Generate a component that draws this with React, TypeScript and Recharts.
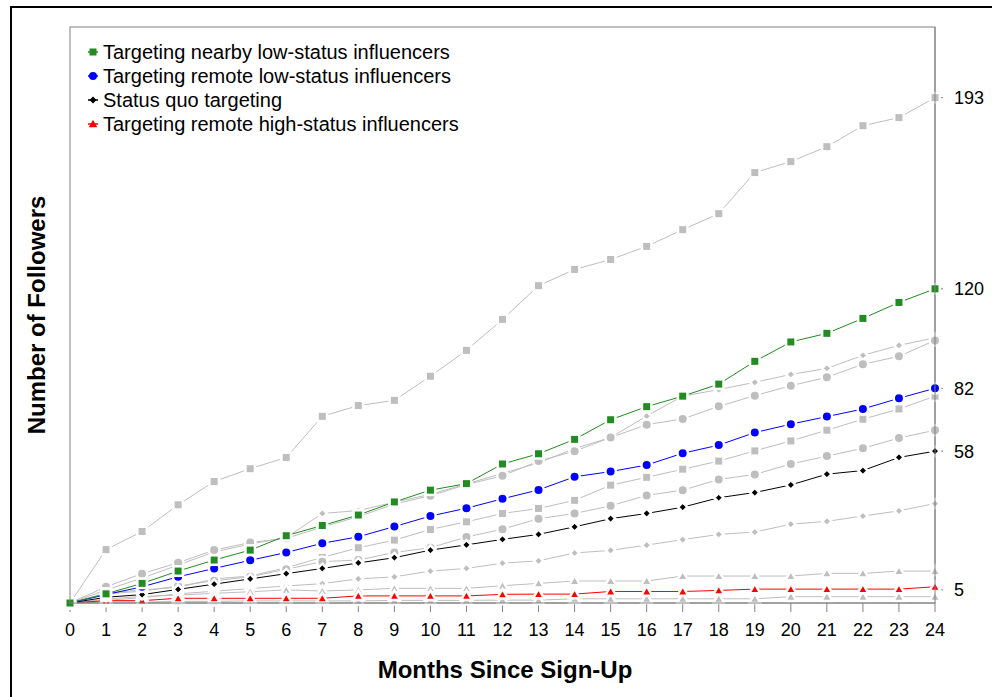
import { LineChart, Line, XAxis, YAxis } from "recharts"

const months = [0, 1, 2, 3, 4, 5, 6, 7, 8, 9, 10, 11, 12, 13, 14, 15, 16, 17, 18, 19, 20, 21, 22, 23, 24]
const yTicks = [5, 58, 82, 120, 193]

// highlighted conditions
const nearbyLow = [0, 3.5, 7.5, 12.2, 16.4, 20.2, 25.7, 29.6, 33.6, 38.6, 43.1, 45.6, 53.1, 57, 62.5, 70, 75, 79, 83.6, 92.3, 99.7, 103, 108.7, 114.8, 120]
const remoteLow = [0, 3.2, 6.2, 10, 13.2, 16.3, 19.3, 22.8, 25.3, 29.2, 33.2, 36.2, 39.8, 43.2, 48.2, 50.2, 52.7, 57.2, 60.3, 65.1, 68.3, 71.2, 74.1, 78.2, 82]
const statusQuo = [0, 2.2, 3.2, 5.2, 7.2, 9.2, 11.2, 13.2, 15.3, 17.3, 20.2, 22.2, 24.3, 26.2, 29.1, 32.2, 34.2, 36.6, 40.2, 42.2, 45.1, 49.2, 50.6, 55.6, 58]
const remoteHigh = [0, 0.9, 0.9, 1.8, 1.8, 1.8, 1.8, 1.8, 2.7, 2.7, 2.7, 2.7, 3.3, 3.4, 3.4, 4.4, 4.4, 4.4, 4.8, 5.3, 5.3, 5.3, 5.3, 5.3, 6.2]

// other conditions (grey)
const greyTop = [0, 20.4, 27.3, 37.5, 46.4, 51.3, 55.6, 71.3, 75.4, 77.4, 86.6, 96.5, 108.3, 121.2, 127.4, 131.2, 136.2, 142.6, 148.7, 164.4, 168.6, 174.3, 182.3, 185.4, 193]
const greyDiamondHi = [0, 5, 9.5, 14.5, 19.5, 22.5, 25, 34.2, 35.3, 38.5, 41.5, 45.5, 49.5, 53.5, 59, 63.2, 71.4, 79, 81.5, 84.3, 87.3, 89.6, 94.6, 98.4, 101.3]
const greyCircleHi = [0, 6.2, 11.2, 15.4, 20.2, 23.1, 24.7, 29, 33, 37.8, 41, 45.2, 48.6, 54.2, 58, 63.2, 68.1, 70.3, 75.1, 79.2, 83, 86.2, 91.2, 94.2, 100.3]
const greySquareMid = [0, 3.8, 5, 6, 9.2, 10.3, 13.5, 17.4, 21.1, 24, 28.1, 31, 34.2, 36.1, 39.2, 45, 48, 51.1, 54.2, 58.1, 61.9, 66, 70.2, 74.1, 79]
const greyCircleMid = [0, 3.5, 4.5, 6.5, 8.5, 10, 12.9, 15.8, 16.4, 19.3, 21.1, 25.2, 28.2, 32.2, 34.2, 37.1, 41.1, 43.1, 47.2, 49.1, 53.1, 56.1, 59.1, 63, 66]
const greyDiamondLo = [0, 1, 2, 3.5, 4.5, 5.5, 6.5, 7.4, 9.2, 10, 12.2, 13.2, 15.2, 16.1, 19.1, 20.1, 22.1, 24.2, 26.2, 27.1, 30.1, 31.2, 33.2, 35.2, 38]
const greyTriangleHi = [0, 1.5, 2.5, 3, 3.7, 4.3, 5, 4.6, 5, 5.6, 5.6, 5.6, 6.6, 7.5, 8.4, 8.4, 8.4, 10.3, 10.3, 10.3, 10.3, 11.3, 11.3, 12.2, 12.2]
const greyTriangleLo = [0, 0.4, 0.4, 0.6, 0.6, 0.8, 0.8, 0.8, 0.8, 1, 1, 1, 1.1, 1.1, 1.6, 1.6, 1.6, 1.6, 1.6, 1.6, 2.4, 2.4, 2.4, 2.4, 2.4]

const data = months.map((m, i) => ({
  month: m,
  nearbyLow: nearbyLow[i],
  remoteLow: remoteLow[i],
  statusQuo: statusQuo[i],
  remoteHigh: remoteHigh[i],
  greyTop: greyTop[i],
  greyDiamondHi: greyDiamondHi[i],
  greyCircleHi: greyCircleHi[i],
  greySquareMid: greySquareMid[i],
  greyCircleMid: greyCircleMid[i],
  greyDiamondLo: greyDiamondLo[i],
  greyTriangleHi: greyTriangleHi[i],
  greyTriangleLo: greyTriangleLo[i],
}))

type Shape = "square" | "circle" | "diamond" | "triangle"

const GREY = "#BEBEBE"
const GREEN = "#228B22"
const BLUE = "#0000FF"
const BLACK = "#000000"
const RED = "#FF0000"
const FRAME = "#808080"

const sizes: Record<Shape, number> = { square: 7, circle: 8, diamond: 7, triangle: 8.5 }

// pad > 0 draws a white ring so the line stops short of the point, like R's type="b"
function markerPath(shape: Shape, x: number, y: number, fill: string, key?: string | number, pad = 0) {
  const s = sizes[shape] + pad
  const ring = pad > 0 ? { stroke: "#fff", strokeWidth: pad } : {}
  if (shape === "square") return <rect key={key} x={x - s / 2} y={y - s / 2} width={s} height={s} fill={fill} {...ring} />
  if (shape === "circle") return <circle key={key} cx={x} cy={y} r={s / 2} fill={fill} {...ring} />
  if (shape === "diamond")
    return <polygon key={key} points={`${x},${y - s / 2} ${x + s / 2},${y} ${x},${y + s / 2} ${x - s / 2},${y}`} fill={fill} {...ring} />
  return <polygon key={key} points={`${x},${y - s * 0.5} ${x + s / 2},${y + s * 0.38} ${x - s / 2},${y + s * 0.38}`} fill={fill} {...ring} />
}

function makeDot(shape: Shape, fill: string) {
  return (props: any) => {
    const { cx, cy, index } = props
    if (cx == null || cy == null) return <g key={index} />
    return markerPath(shape, cx, cy, fill, index, 2.5)
  }
}

const greySeries: [string, Shape][] = [
  ["greyTop", "square"],
  ["greyDiamondHi", "diamond"],
  ["greyCircleHi", "circle"],
  ["greySquareMid", "square"],
  ["greyCircleMid", "circle"],
  ["greyDiamondLo", "diamond"],
  ["greyTriangleHi", "triangle"],
  ["greyTriangleLo", "triangle"],
]

const mainSeries: [string, Shape, string, string][] = [
  ["remoteHigh", "triangle", RED, "Targeting remote high-status influencers"],
  ["statusQuo", "diamond", BLACK, "Status quo targeting"],
  ["remoteLow", "circle", BLUE, "Targeting remote low-status influencers"],
  ["nearbyLow", "square", GREEN, "Targeting nearby low-status influencers"],
]

const legendOrder = [3, 2, 1, 0]

export default function App() {
  return (
    <div
      style={{
        position: "absolute",
        left: 0,
        top: 0,
        width: 992,
        height: 697,
        overflow: "hidden",
        background: "#fff",
        fontFamily: "'Liberation Sans', Arial, sans-serif",
      }}
    >
      <div
        style={{
          position: "absolute",
          left: 10,
          top: 6,
          width: 1200,
          height: 1200,
          border: "2px solid #000",
        }}
      />
      <div style={{ position: "absolute", left: 0, top: 0 }}>
        <LineChart width={992} height={697} data={data} margin={{ top: 27, right: 0, left: 70, bottom: 0 }}>
          <XAxis
            dataKey="month"
            type="number"
            domain={[0, 24]}
            ticks={months}
            interval={0}
            height={94}
            tickSize={9}
            tickMargin={11}
            stroke={FRAME}
            tick={{ fill: "#000", fontSize: 18 }}
          />
          <YAxis
            orientation="right"
            type="number"
            domain={[0, 220]}
            ticks={yTicks}
            interval={0}
            width={57}
            tickSize={8}
            tickMargin={11}
            stroke={FRAME}
            tick={{ fill: "#000", fontSize: 18, textAnchor: "start" }}
          />
          {greySeries.map(([key, shape]) => (
            <Line
              key={key}
              dataKey={key}
              type="linear"
              stroke={GREY}
              strokeWidth={1}
              dot={makeDot(shape, GREY)}
              activeDot={false}
              isAnimationActive={false}
            />
          ))}
          {mainSeries.map(([key, shape, color]) => (
            <Line
              key={key}
              dataKey={key}
              type="linear"
              stroke={color}
              strokeWidth={1}
              dot={makeDot(shape, color)}
              activeDot={false}
              isAnimationActive={false}
            />
          ))}
        </LineChart>
      </div>
      {/* plot box drawn over the series so the white rings don't break it */}
      <svg width={992} height={697} style={{ position: "absolute", left: 0, top: 0, pointerEvents: "none" }}>
        <rect x={70} y={27} width={865} height={576} fill="none" stroke={FRAME} strokeWidth={1} />
      </svg>
      <div style={{ position: "absolute", left: 84, top: 40 }}>
        {legendOrder.map((i) => {
          const [key, shape, color, label] = mainSeries[i]
          return (
            <div key={key} style={{ display: "flex", alignItems: "center", height: 24, fontSize: 20, lineHeight: "24px", color: "#000" }}>
              <svg width={19} height={24} style={{ flex: "none" }}>
                <line x1={4} x2={14} y1={12} y2={12} stroke={color} strokeWidth={1.5} />
                {markerPath(shape, 9, 12, color)}
              </svg>
              <span style={{ whiteSpace: "nowrap" }}>{label}</span>
            </div>
          )
        })}
      </div>
      <div
        style={{
          position: "absolute",
          left: 305,
          top: 655,
          width: 400,
          textAlign: "center",
          fontSize: 24,
          lineHeight: "30px",
          fontWeight: "bold",
          color: "#000",
        }}
      >
        Months Since Sign-Up
      </div>
      <div
        style={{
          position: "absolute",
          left: 37 - 200,
          top: 315 - 15,
          width: 400,
          height: 30,
          textAlign: "center",
          fontSize: 24,
          lineHeight: "30px",
          fontWeight: "bold",
          color: "#000",
          transform: "rotate(-90deg)",
        }}
      >
        Number of Followers
      </div>
    </div>
  )
}
